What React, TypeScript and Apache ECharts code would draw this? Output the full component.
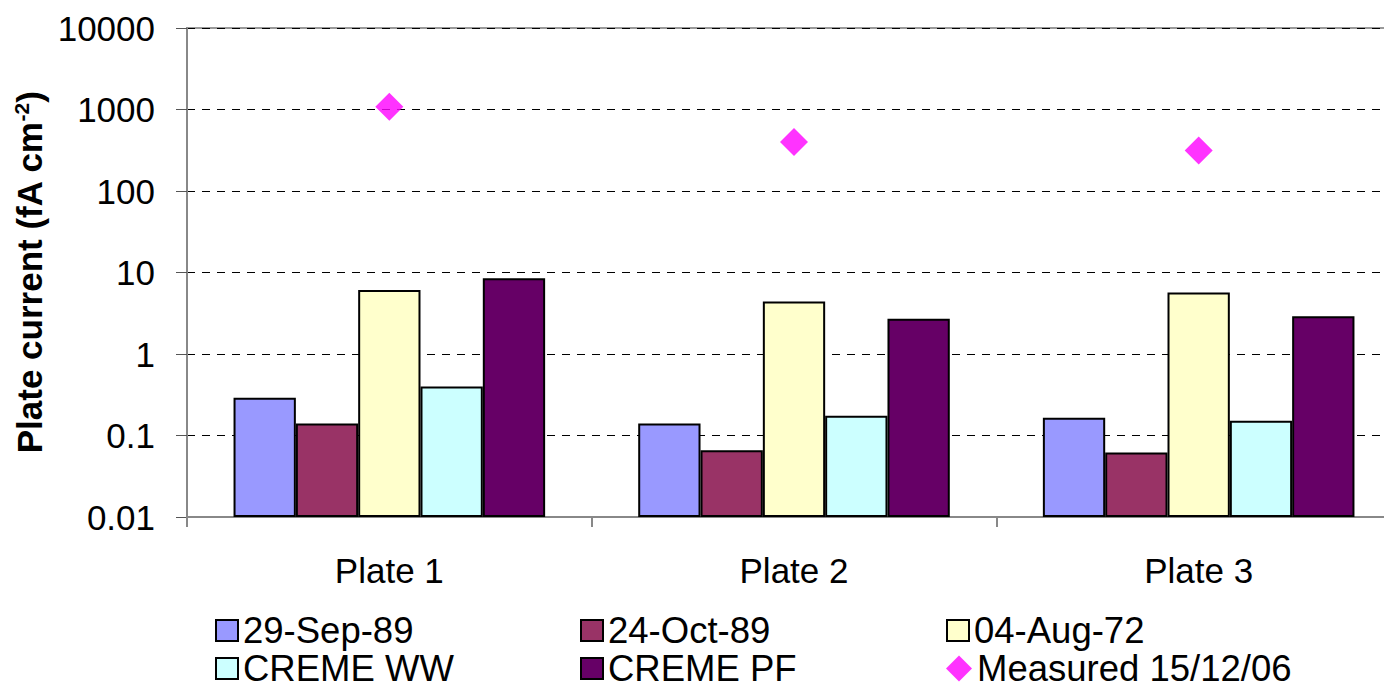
import React, { useEffect, useRef } from "react";
import * as echarts from "echarts";

const categories = ["Plate 1", "Plate 2", "Plate 3"];
const sep89 = [0.29, 0.14, 0.165];
const oct89 = [0.14, 0.066, 0.062];
const aug72 = [6.1, 4.4, 5.7];
const cremeWW = [0.4, 0.175, 0.152];
const cremePF = [8.5, 2.7, 2.9];
const measured = [1080, 400, 315];
const yTicks = [0.01, 0.1, 1, 10, 100, 1000, 10000];
const legendNames = [
  "29-Sep-89",
  "24-Oct-89",
  "04-Aug-72",
  "CREME WW",
  "CREME PF",
  "Measured 15/12/06",
];

const FONT = "Liberation Sans, Arial, sans-serif";

export default function App() {
  const ref = useRef<HTMLDivElement>(null);
  useEffect(() => {
    document.body.style.margin = "0";
    const chart = echarts.init(ref.current!, null, { renderer: "svg" });
    const bar = (name: string, data: number[], color: string) => ({
      name,
      type: "bar",
      data,
      barGap: "0%",
      barCategoryGap: "23%",
      itemStyle: { color, borderColor: "#000", borderWidth: 2 },
    });
    const colLeft = [215, 580, 946];
    const rowTop = [612, 650];
    const legends = legendNames.map((n, i) => {
      const isDiamond = i === 5;
      return {
        data: [n],
        left: colLeft[i % 3],
        top: rowTop[Math.floor(i / 3)],
        icon: isDiamond ? "diamond" : "rect",
        itemWidth: isDiamond ? 26 : 22,
        itemHeight: isDiamond ? 26 : 21,
        itemTextGap: isDiamond ? 8 : 14,
        padding: 0,
        textStyle: {
          fontFamily: FONT,
          fontSize: 36.5,
          color: "#000",
          lineHeight: 34,
        },
      };
    });
    chart.setOption({
      animation: false,
      backgroundColor: "#fff",
      grid: {
        left: 187,
        top: 28,
        width: 1214,
        bottom: 168,
        outerBoundsMode: "none",
        containLabel: false,
        show: true,
        borderColor: "#999",
        borderWidth: 2,
      },
      legend: legends,
      xAxis: {
        type: "category",
        data: categories,
        axisLine: { lineStyle: { color: "#888", width: 2 } },
        axisTick: { show: true, length: 10, lineStyle: { color: "#888", width: 2 } },
        axisLabel: { fontFamily: FONT, fontSize: 35, color: "#000", margin: 36 },
      },
      yAxis: {
        type: "log",
        logBase: 10,
        min: 0.01,
        max: 10000,
        startValue: 0.01,
        name: "{a|Plate current (fA cm}{s|-2}{a|)}",
        nameLocation: "middle",
        nameGap: 134,
        nameTextStyle: {
          rich: {
            a: { fontFamily: FONT, fontSize: 35, fontWeight: "bold", color: "#000" },
            s: { fontFamily: FONT, fontSize: 21, fontWeight: "bold", color: "#000", padding: [0, 0, 16, 0] },
          },
        },
        axisLine: { show: true, lineStyle: { color: "#888", width: 2 } },
        axisTick: { show: true, length: 11, lineStyle: { color: "#555", width: 1 } },
        axisLabel: {
          fontFamily: FONT,
          fontSize: 35,
          color: "#000",
          margin: 32,
          formatter: (v: number) => {
            const t = yTicks.find((x) => Math.abs(Math.log10(x) - Math.log10(v)) < 1e-6);
            return t !== undefined ? String(t) : String(v);
          },
        },
        splitLine: { show: true, lineStyle: { color: "#000", width: 1, type: [8, 7] } },
      },
      series: [
        bar("29-Sep-89", sep89, "#9999FF"),
        bar("24-Oct-89", oct89, "#993366"),
        bar("04-Aug-72", aug72, "#FFFFCC"),
        bar("CREME WW", cremeWW, "#CCFFFF"),
        bar("CREME PF", cremePF, "#660066"),
        {
          name: "Measured 15/12/06",
          type: "scatter",
          data: measured,
          symbol: "diamond",
          symbolSize: 28,
          itemStyle: { color: "#FF00FF" },
          z: 5,
        },
      ],
    });
    return () => chart.dispose();
  }, []);
  return (
    <div
      ref={ref}
      style={{ position: "absolute", left: 0, top: 0, width: 1384, height: 685 }}
    />
  );
}
